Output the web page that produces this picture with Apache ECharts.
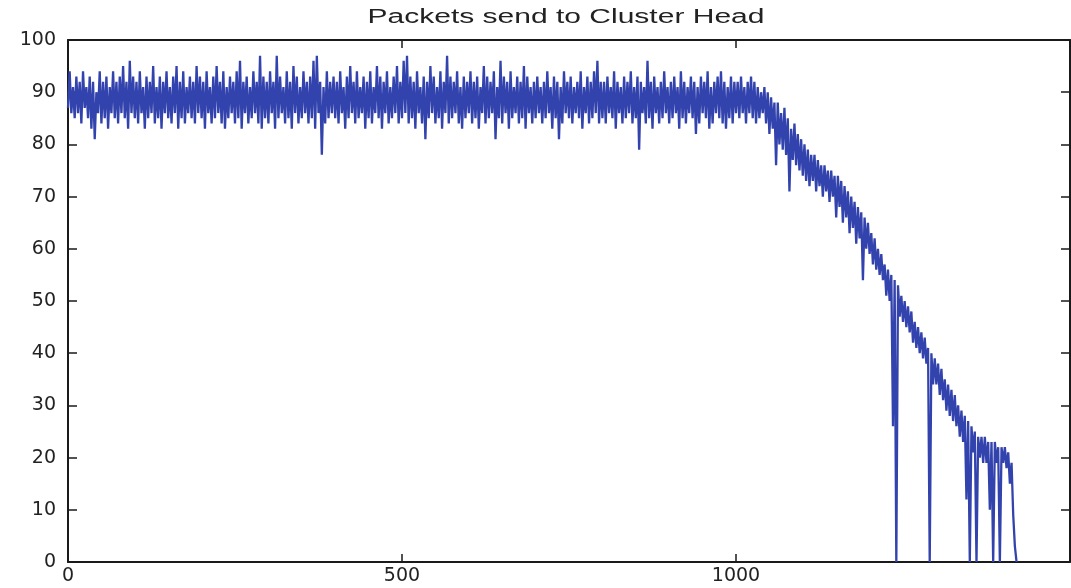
<!DOCTYPE html>
<html>
<head>
<meta charset="utf-8">
<script src="https://cdn.jsdelivr.net/npm/echarts@6/dist/echarts.min.js"></script>
<style>
html,body{margin:0;padding:0;background:#fff;}
#c{width:1071px;height:588px;}
</style>
</head>
<body>
<div id="c"></div>
<script>
const titleText = 'Packets send to Cluster Head';
const xStep = 5; // lower-edge readings at x = 0, 5, 10, ...; upper-edge readings at x + 2.5
const xTicks = [0, 500, 1000, 1500];
const yTicks = [0, 10, 20, 30, 40, 50, 60, 70, 80, 90, 100];

// Lower edge of the noisy trace (dips), x = 0, 5, 10, ...
const lows0to995 = [
  87,86,85,86,84,87,85,83,81,86,84,85,83,86,85,84,86,85,83,86,
  85,84,86,83,85,86,84,85,83,86,85,84,86,83,85,84,86,85,84,86,
  85,83,86,84,85,86,84,83,85,86,84,85,83,86,84,85,86,84,83,85,
  84,86,83,85,86,84,85,83,86,84,85,86,84,85,83,86,78,84,85,86,
  85,84,86,83,85,86,84,85,86,83,85,84,86,85,83,86,84,85,86,84,
  85,86,84,85,83,86,84,81,85,86,84,85,83,86,84,85,86,84,83,85,
  86,84,85,83,86,84,85,86,81,85,84,86,83,85,86,84,85,83,86,84,
  85,86,84,85,86,83,85,81,84,86,85,84,86,85,83,86,84,85,86,84,
  85,84,86,85,83,86,84,85,86,84,85,79,86,84,85,83,86,84,85,86,
  84,85,86,83,85,84,86,85,82,84,86,85,83,84,86,85,84,83,85,84
];
const lows1000to1420 = [
  86,85,86,84,86,85,84,85,86,84,82,83,76,80,79,78,71,77,76,75,
  74,73,72,73,71,72,70,71,69,70,66,68,65,66,63,64,61,62,54,60,
  59,57,56,55,54,51,50,26,0,47,46,45,44,42,41,40,39,38,0,34,
  34,32,31,29,28,27,26,24,23,12,0,21,0,20,19,19,10,0,19,0,
  19,18,15,9,0
];
// Upper edge of the noisy trace (peaks), x = 2.5, 7.5, 12.5, ...
const highs2to997 = [
  94,91,93,92,94,91,93,92,90,94,92,93,91,94,92,93,95,92,96,93,
  92,94,91,93,92,95,91,93,92,94,91,93,95,92,94,91,93,92,95,93,
  92,94,91,93,95,92,94,91,93,92,94,96,92,93,91,94,92,97,93,92,
  94,92,97,93,91,94,92,95,93,91,94,92,93,96,97,92,91,94,92,93,
  92,94,91,93,95,92,94,91,93,92,94,91,95,93,92,94,91,93,95,92,
  96,97,93,92,94,91,93,92,95,93,91,94,92,97,93,92,94,91,93,92,
  94,92,93,91,95,93,92,94,91,96,93,92,94,91,93,92,95,93,91,92,
  93,91,92,94,91,93,92,91,94,92,93,91,92,94,91,93,92,94,96,92,
  92,93,91,94,92,91,93,92,94,91,93,92,91,96,92,93,91,92,94,91,
  92,93,91,94,92,91,93,92,91,93,92,94,91,92,93,94,92,91,93,92
];
const highs1002to1417 = [
  92,93,91,92,93,92,91,90,91,90,89,88,88,86,87,85,83,84,82,81,
  80,79,78,78,77,76,76,75,75,74,74,73,72,71,70,69,68,67,66,65,
  63,62,60,59,57,56,55,54,53,51,50,49,48,46,45,44,43,41,40,39,
  38,37,35,34,33,32,30,29,28,27,26,25,24,24,24,23,23,23,22,22,
  22,21,19,3
];

const lows = lows0to995.concat(lows1000to1420);
const highs = highs2to997.concat(highs1002to1417);
const seriesData = [];
lows.forEach((v, i) => {
  seriesData.push([i * xStep, v]);
  if (i < highs.length) seriesData.push([i * xStep + xStep / 2, highs[i]]);
});

const axisColor = '#1a1a1a';
const labelFont = { fontFamily: 'DejaVu Sans, Liberation Sans, sans-serif', fontSize: 19, color: '#222' };

const chart = echarts.init(document.getElementById('c'), null, { renderer: 'canvas' });
chart.setOption({
  animation: false,
  backgroundColor: '#ffffff',
  graphic: [
    {
      type: 'text',
      x: 566,
      y: 17,
      scaleX: 1.5,
      style: {
        text: titleText,
        x: 0,
        y: 0,
        align: 'center',
        verticalAlign: 'middle',
        font: '20px "Liberation Sans", Arial, sans-serif',
        fill: '#222'
      }
    }
  ],
  grid: { left: 68, right: 1, top: 40, bottom: 26, containLabel: false },
  xAxis: [
    {
      type: 'value', min: xTicks[0], max: xTicks[xTicks.length - 1], interval: 500,
      axisLine: { show: true, onZero: false, lineStyle: { color: axisColor, width: 2 } },
      axisTick: { show: true, inside: true, length: 8, lineStyle: { color: axisColor, width: 1.5 } },
      axisLabel: { show: true, margin: 5, showMaxLabel: false, formatter: v => String(v), ...labelFont },
      splitLine: { show: false }
    },
    {
      type: 'value', position: 'top', min: xTicks[0], max: xTicks[xTicks.length - 1], interval: 500,
      axisLine: { show: true, onZero: false, lineStyle: { color: axisColor, width: 2 } },
      axisTick: { show: true, inside: true, length: 8, lineStyle: { color: axisColor, width: 1.5 } },
      axisLabel: { show: false },
      splitLine: { show: false }
    }
  ],
  yAxis: [
    {
      type: 'value', min: yTicks[0], max: yTicks[yTicks.length - 1], interval: 10,
      axisLine: { show: true, onZero: false, lineStyle: { color: axisColor, width: 2 } },
      axisTick: { show: true, inside: true, length: 9, lineStyle: { color: axisColor, width: 1.5 } },
      axisLabel: { show: true, margin: 12, ...labelFont },
      splitLine: { show: false }
    },
    {
      type: 'value', position: 'right', min: yTicks[0], max: yTicks[yTicks.length - 1], interval: 10,
      axisLine: { show: true, onZero: false, lineStyle: { color: axisColor, width: 2 } },
      axisTick: { show: true, inside: true, length: 9, lineStyle: { color: axisColor, width: 1.5 } },
      axisLabel: { show: false },
      splitLine: { show: false }
    }
  ],
  series: [
    {
      type: 'line',
      data: seriesData,
      xAxisIndex: 0,
      yAxisIndex: 0,
      showSymbol: false,
      symbol: 'none',
      lineStyle: { color: '#3343ad', width: 2.3 },
      clip: true
    }
  ]
});
</script>
</body>
</html>
